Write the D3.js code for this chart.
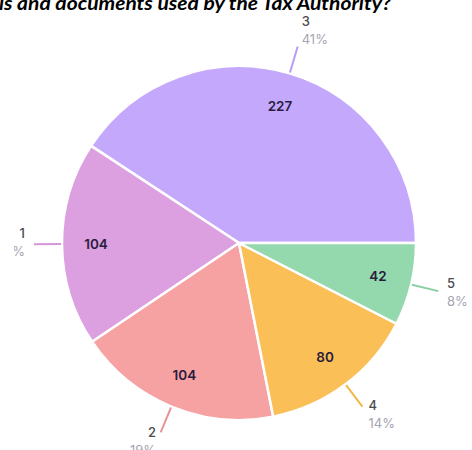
<!DOCTYPE html>
<html>
<head>
<meta charset="utf-8">
<script src="https://cdn.jsdelivr.net/npm/d3@7"></script>
<style>
  html, body { margin: 0; padding: 0; background: #ffffff; overflow: hidden; }
  svg { display: block; }
</style>
</head>
<body>
<svg id="chart" width="472" height="450"></svg>
<script>
// ---- data ----
const titleText = "ls and documents used by the Tax Authority?";
const categories = ["3", "1", "2", "4", "5"];
const values = [227, 104, 104, 80, 42];
const percentLabels = ["41%", "19%", "19%", "14%", "8%"];
const sliceColors = ["#c4a8fc", "#dc9fe0", "#f6a1a2", "#fbbf57", "#94d9ad"];
const lineColors = ["#b99cf4", "#d596da", "#e8959a", "#efb848", "#8ccfa5"];

// ---- layout ----
const W = 472, H = 450;
const cx = 239, cy = 243, R = 177;

const svg = d3.select("#chart");

// title (cropped at the top in the reference)
svg.append("text")
  .attr("x", -1)
  .attr("y", 10)
  .attr("font-family", "Lato, 'Open Sans', sans-serif")
  .attr("font-weight", 700)
  .attr("font-style", "italic")
  .attr("font-size", 18)
  .attr("fill", "#000")
  .attr("textLength", 392)
  .attr("lengthAdjust", "spacingAndGlyphs")
  .text(titleText);

const data = categories.map((c, i) => ({ cat: c, value: values[i], pct: percentLabels[i], color: sliceColors[i], lcolor: lineColors[i] }));

const pie = d3.pie()
  .sort(null)
  .value(d => d.value)
  .startAngle(Math.PI / 2)
  .endAngle(Math.PI / 2 - 2 * Math.PI);

const arcs = pie(data);
const arc = d3.arc().innerRadius(0).outerRadius(R);

const g = svg.append("g").attr("transform", `translate(${cx},${cy})`);

g.selectAll("path.slice")
  .data(arcs)
  .join("path")
  .attr("class", "slice")
  .attr("d", arc)
  .attr("fill", d => d.data.color)
  .attr("stroke", "#ffffff")
  .attr("stroke-width", 2.5)
  .attr("stroke-linejoin", "round");

// inner value labels
const innerArc = d3.arc().innerRadius(143).outerRadius(143);
g.selectAll("text.val")
  .data(arcs)
  .join("text")
  .attr("class", "val")
  .attr("x", d => innerArc.centroid(d)[0])
  .attr("y", d => innerArc.centroid(d)[1])
  .attr("dy", "0.35em")
  .attr("text-anchor", "middle")
  .attr("font-family", "Inter, 'Noto Sans', sans-serif")
  .attr("font-weight", 600)
  .attr("font-size", 13.5)
  .attr("fill", "#2a1c3c")
  .text(d => d.data.value);

// outer labels with leader lines
svg.append("clipPath").attr("id", "lblclip")
  .append("rect").attr("x", 14 - cx).attr("y", -cy).attr("width", W).attr("height", H);

const outer = g.append("g").attr("clip-path", "url(#lblclip)");

const r1 = R + 1, r2 = R + 28;
arcs.forEach(d => {
  const a = (d.startAngle + d.endAngle) / 2;
  const dx = Math.sin(a), dy = -Math.cos(a);
  const x1 = dx * r1, y1 = dy * r1, x2 = dx * r2, y2 = dy * r2;
  outer.append("line")
    .attr("x1", x1).attr("y1", y1).attr("x2", x2).attr("y2", y2)
    .attr("stroke", d.data.lcolor)
    .attr("stroke-width", 2);
  const right = dx >= 0;
  const gap = 2 + 7 * Math.abs(dx);
  const tx = x2 + (right ? gap : -gap);
  const center = y2 - 3 + (dy < 0 ? 15 : 11) * dy;
  const b1 = center - 3;
  outer.append("text")
    .attr("x", tx).attr("y", b1)
    .attr("text-anchor", right ? "start" : "end")
    .attr("font-family", "Inter, 'Noto Sans', sans-serif")
    .attr("font-size", 13)
    .attr("font-weight", 500)
    .attr("fill", "#4a4a4f")
    .text(d.data.cat);
  outer.append("text")
    .attr("x", tx).attr("y", b1 + 18)
    .attr("text-anchor", right ? "start" : "end")
    .attr("font-family", "Inter, 'Noto Sans', sans-serif")
    .attr("font-size", 13)
    .attr("fill", "#a6a6b0")
    .text(d.data.pct);
});
</script>
</body>
</html>
